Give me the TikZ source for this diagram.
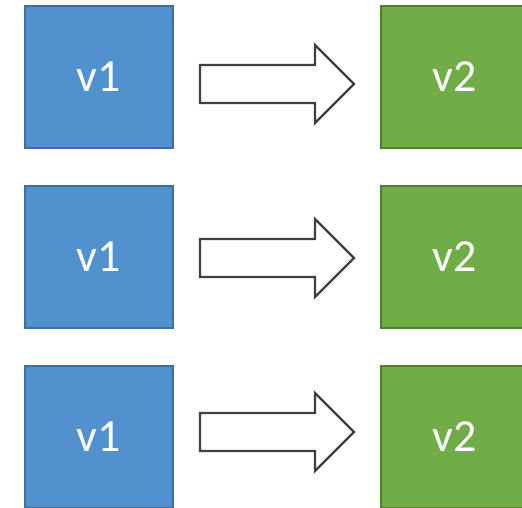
\documentclass[tikz,border=0pt]{standalone}
\usepackage{fontspec}
\setmainfont{Carlito}
\definecolor{bluefill}{HTML}{5091CE}
\definecolor{blueline}{HTML}{3F6E9E}
\definecolor{greenfill}{HTML}{70AD47}
\definecolor{greenline}{HTML}{507E32}
\definecolor{arrowline}{HTML}{404040}
\begin{document}
\begin{tikzpicture}[x=1pt,y=-1pt,
  vbox/.style={minimum width=148pt,minimum height=142pt,inner sep=0pt,line width=1.8pt,
    text=white,font=\fontsize{46}{46}\selectfont},
  bluebox/.style={vbox,fill=bluefill,draw=blueline},
  greenbox/.style={vbox,fill=greenfill,draw=greenline},
  blockarrow/.style={draw=arrowline,line width=2.2pt,fill=white,line join=miter},
  pics/fatarrow/.style={code={
    \draw[blockarrow] (-77,-19) -- (38,-19) -- (38,-39) -- (77,0) -- (38,39) -- (38,19) -- (-77,19) -- cycle;
  }}]
\useasboundingbox (0,0) rectangle (522,508);
\clip (0,0) rectangle (522,508);
% row 1
\node[bluebox] (a1) at (99,77) {v1};
\node[greenbox] (b1) at (455,77) {v2};
\pic (r1) at (277,84) {fatarrow};
% row 2
\node[bluebox] (a2) at (99,257) {v1};
\node[greenbox] (b2) at (455,257) {v2};
\pic (r2) at (277,258) {fatarrow};
% row 3
\node[bluebox] (a3) at (99,437) {v1};
\node[greenbox] (b3) at (455,437) {v2};
\pic (r3) at (277,432) {fatarrow};
\end{tikzpicture}
\end{document}
